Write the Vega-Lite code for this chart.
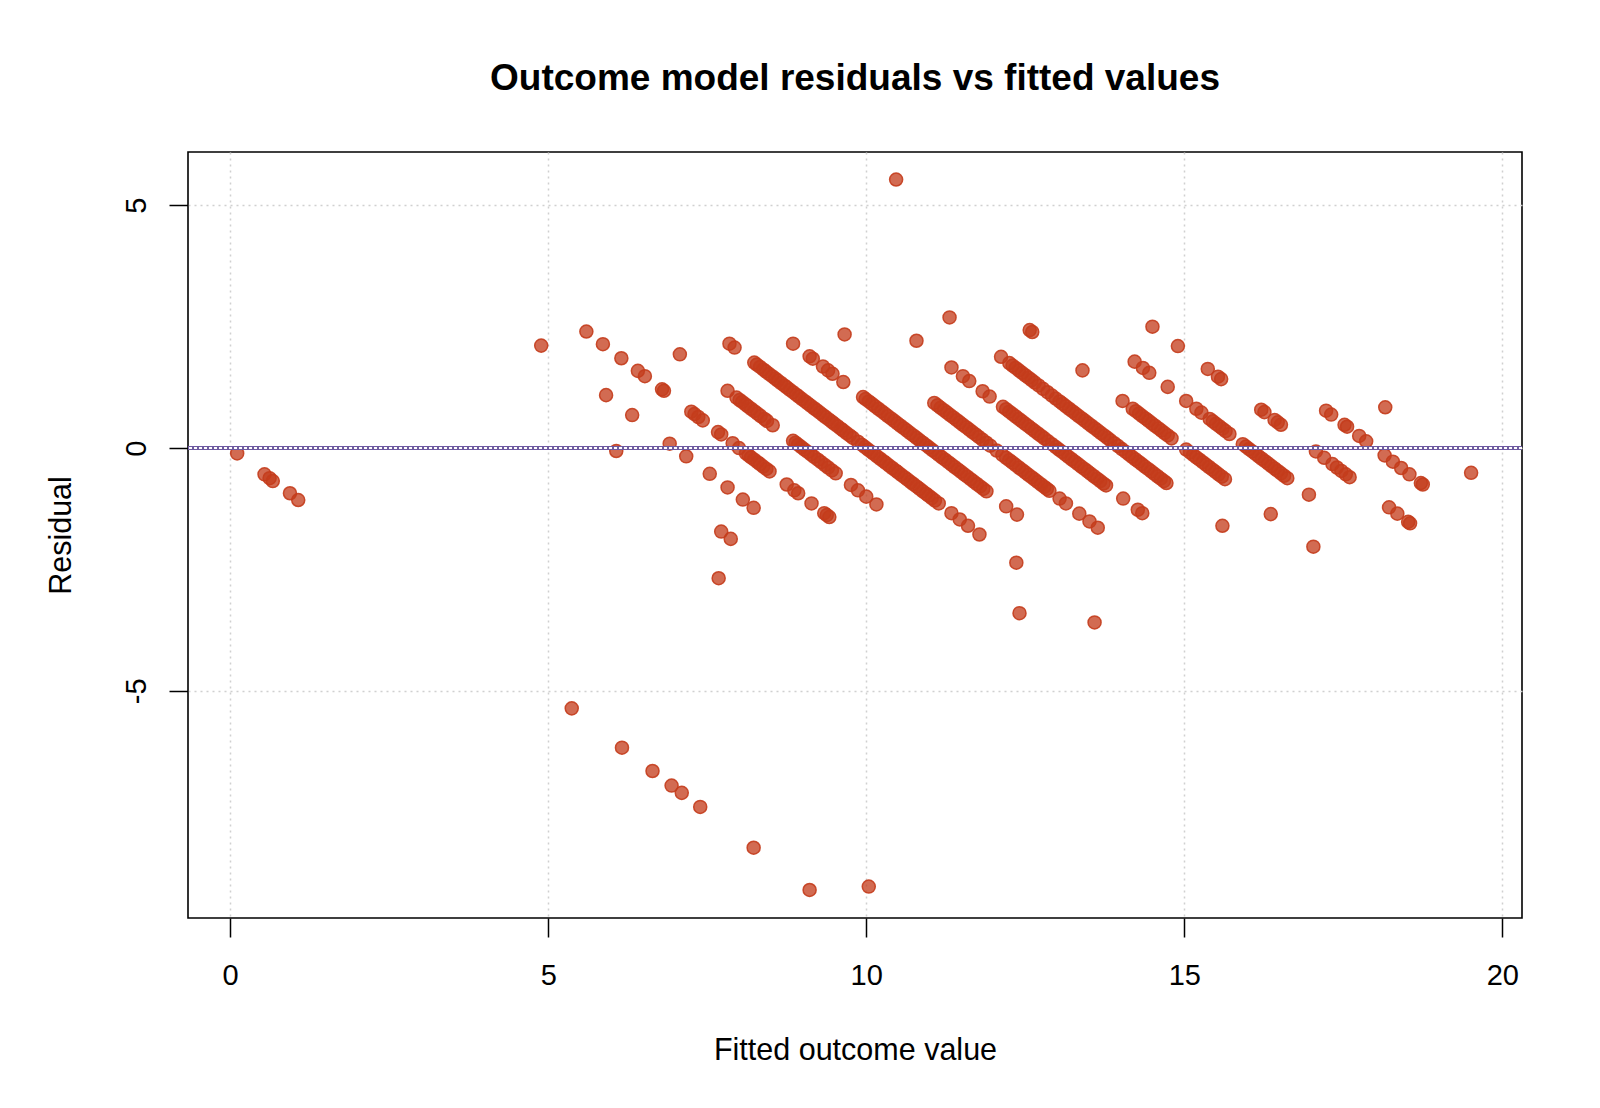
{
  "$schema": "https://vega.github.io/schema/vega-lite/v6.json",
  "width": 1334,
  "height": 766,
  "autosize": {"type": "none"},
  "padding": {"left": 188, "top": 152, "right": 78, "bottom": 190},
  "background": "white",
  "title": {
    "text": "Outcome model residuals vs fitted values",
    "font": "Liberation Sans",
    "fontSize": 37,
    "fontWeight": "bold",
    "color": "black",
    "anchor": "middle",
    "frame": "group",
    "baseline": "alphabetic",
    "offset": 25
  },
  "config": {
    "view": {"stroke": "black", "strokeWidth": 1.6},
    "axis": {
      "labelFont": "Liberation Sans",
      "titleFont": "Liberation Sans",
      "labelColor": "black",
      "titleColor": "black",
      "tickColor": "black",
      "tickWidth": 1.5,
      "tickSize": 19,
      "domain": false,
      "grid": true,
      "gridColor": "#d0d0d0",
      "gridDash": [2, 4],
      "gridWidth": 1.5,
      "labelFontSize": 29,
      "titleFontSize": 30.5,
      "titleFontWeight": "normal"
    }
  },
  "data": {
    "values": [
      {"fitted": 0.11, "residual": -0.11}, {"fitted": 0.54, "residual": -0.54}, {"fitted": 0.62, "residual": -0.62}, {"fitted": 0.67, "residual": -0.68}, {"fitted": 0.94, "residual": -0.93}, {"fitted": 1.07, "residual": -1.07},
      {"fitted": 5.37, "residual": -5.36}, {"fitted": 6.16, "residual": -6.17}, {"fitted": 6.64, "residual": -6.65}, {"fitted": 6.94, "residual": -6.95}, {"fitted": 7.10, "residual": -7.10}, {"fitted": 7.39, "residual": -7.39}, {"fitted": 8.23, "residual": -8.23}, {"fitted": 9.11, "residual": -9.10}, {"fitted": 10.04, "residual": -9.03},
      {"fitted": 7.68, "residual": -2.68}, {"fitted": 6.07, "residual": -0.06}, {"fitted": 7.72, "residual": -1.72}, {"fitted": 7.87, "residual": -1.87},
      {"fitted": 4.89, "residual": 2.11}, {"fitted": 5.91, "residual": 1.09}, {"fitted": 6.32, "residual": 0.68}, {"fitted": 6.91, "residual": 0.09}, {"fitted": 7.17, "residual": -0.17}, {"fitted": 7.54, "residual": -0.53}, {"fitted": 7.82, "residual": -0.81}, {"fitted": 8.06, "residual": -1.06}, {"fitted": 8.23, "residual": -1.23},
      {"fitted": 5.60, "residual": 2.40}, {"fitted": 5.86, "residual": 2.14}, {"fitted": 6.15, "residual": 1.85}, {"fitted": 6.41, "residual": 1.59}, {"fitted": 6.52, "residual": 1.48}, {"fitted": 6.79, "residual": 1.21}, {"fitted": 6.82, "residual": 1.18}, {"fitted": 7.25, "residual": 0.75}, {"fitted": 7.30, "residual": 0.70}, {"fitted": 7.36, "residual": 0.64}, {"fitted": 7.43, "residual": 0.57}, {"fitted": 7.67, "residual": 0.33}, {"fitted": 7.72, "residual": 0.28}, {"fitted": 7.90, "residual": 0.10}, {"fitted": 8.00, "residual": 0.00}, {"fitted": 8.11, "residual": -0.11}, {"fitted": 8.15, "residual": -0.15}, {"fitted": 8.19, "residual": -0.19}, {"fitted": 8.24, "residual": -0.24}, {"fitted": 8.29, "residual": -0.29}, {"fitted": 8.33, "residual": -0.33}, {"fitted": 8.38, "residual": -0.38}, {"fitted": 8.43, "residual": -0.43}, {"fitted": 8.48, "residual": -0.48}, {"fitted": 8.75, "residual": -0.75}, {"fitted": 8.87, "residual": -0.87}, {"fitted": 8.93, "residual": -0.93}, {"fitted": 9.14, "residual": -1.14}, {"fitted": 9.34, "residual": -1.34}, {"fitted": 9.38, "residual": -1.38}, {"fitted": 9.42, "residual": -1.42},
      {"fitted": 7.07, "residual": 1.93}, {"fitted": 7.82, "residual": 1.18}, {"fitted": 7.96, "residual": 1.04}, {"fitted": 8.01, "residual": 0.99}, {"fitted": 8.05, "residual": 0.95}, {"fitted": 8.10, "residual": 0.90}, {"fitted": 8.14, "residual": 0.86}, {"fitted": 8.19, "residual": 0.81}, {"fitted": 8.24, "residual": 0.76}, {"fitted": 8.29, "residual": 0.71}, {"fitted": 8.34, "residual": 0.66}, {"fitted": 8.40, "residual": 0.60}, {"fitted": 8.44, "residual": 0.56}, {"fitted": 8.53, "residual": 0.47}, {"fitted": 8.85, "residual": 0.15}, {"fitted": 8.89, "residual": 0.11}, {"fitted": 8.93, "residual": 0.07}, {"fitted": 8.98, "residual": 0.02}, {"fitted": 9.03, "residual": -0.03}, {"fitted": 9.08, "residual": -0.08}, {"fitted": 9.13, "residual": -0.13}, {"fitted": 9.18, "residual": -0.18}, {"fitted": 9.24, "residual": -0.24}, {"fitted": 9.29, "residual": -0.29}, {"fitted": 9.35, "residual": -0.35}, {"fitted": 9.40, "residual": -0.40}, {"fitted": 9.46, "residual": -0.46}, {"fitted": 9.52, "residual": -0.52}, {"fitted": 9.76, "residual": -0.76}, {"fitted": 9.87, "residual": -0.87}, {"fitted": 10.00, "residual": -1.00}, {"fitted": 10.16, "residual": -1.16},
      {"fitted": 7.85, "residual": 2.15}, {"fitted": 7.93, "residual": 2.07}, {"fitted": 8.24, "residual": 1.76}, {"fitted": 8.28, "residual": 1.72}, {"fitted": 8.33, "residual": 1.67}, {"fitted": 8.38, "residual": 1.62}, {"fitted": 8.42, "residual": 1.58}, {"fitted": 8.47, "residual": 1.53}, {"fitted": 8.52, "residual": 1.48}, {"fitted": 8.57, "residual": 1.43}, {"fitted": 8.61, "residual": 1.39}, {"fitted": 8.66, "residual": 1.34}, {"fitted": 8.71, "residual": 1.29}, {"fitted": 8.75, "residual": 1.25}, {"fitted": 8.80, "residual": 1.20}, {"fitted": 8.85, "residual": 1.15}, {"fitted": 8.90, "residual": 1.10}, {"fitted": 8.94, "residual": 1.06}, {"fitted": 8.99, "residual": 1.01}, {"fitted": 9.04, "residual": 0.96}, {"fitted": 9.08, "residual": 0.92}, {"fitted": 9.13, "residual": 0.87}, {"fitted": 9.18, "residual": 0.82}, {"fitted": 9.22, "residual": 0.78}, {"fitted": 9.27, "residual": 0.73}, {"fitted": 9.32, "residual": 0.68}, {"fitted": 9.36, "residual": 0.64}, {"fitted": 9.41, "residual": 0.59}, {"fitted": 9.46, "residual": 0.54}, {"fitted": 9.50, "residual": 0.50}, {"fitted": 9.55, "residual": 0.45}, {"fitted": 9.60, "residual": 0.40}, {"fitted": 9.64, "residual": 0.36}, {"fitted": 9.69, "residual": 0.31}, {"fitted": 9.74, "residual": 0.26}, {"fitted": 9.79, "residual": 0.21}, {"fitted": 9.87, "residual": 0.13}, {"fitted": 9.93, "residual": 0.07}, {"fitted": 9.98, "residual": 0.02}, {"fitted": 10.03, "residual": -0.03}, {"fitted": 10.08, "residual": -0.08}, {"fitted": 10.12, "residual": -0.12}, {"fitted": 10.17, "residual": -0.17}, {"fitted": 10.22, "residual": -0.22}, {"fitted": 10.27, "residual": -0.27}, {"fitted": 10.31, "residual": -0.31}, {"fitted": 10.36, "residual": -0.36}, {"fitted": 10.41, "residual": -0.41}, {"fitted": 10.46, "residual": -0.46}, {"fitted": 10.50, "residual": -0.50}, {"fitted": 10.55, "residual": -0.55}, {"fitted": 10.60, "residual": -0.60}, {"fitted": 10.65, "residual": -0.65}, {"fitted": 10.70, "residual": -0.70}, {"fitted": 10.74, "residual": -0.74}, {"fitted": 10.79, "residual": -0.79}, {"fitted": 10.84, "residual": -0.84}, {"fitted": 10.89, "residual": -0.89}, {"fitted": 10.94, "residual": -0.94}, {"fitted": 10.98, "residual": -0.98}, {"fitted": 11.03, "residual": -1.03}, {"fitted": 11.08, "residual": -1.08}, {"fitted": 11.14, "residual": -1.14}, {"fitted": 11.34, "residual": -1.34}, {"fitted": 11.47, "residual": -1.47}, {"fitted": 11.60, "residual": -1.60}, {"fitted": 11.78, "residual": -1.78}, {"fitted": 12.36, "residual": -2.36}, {"fitted": 13.59, "residual": -3.59}, {"fitted": 12.41, "residual": -3.40},
      {"fitted": 8.85, "residual": 2.15}, {"fitted": 9.11, "residual": 1.89}, {"fitted": 9.16, "residual": 1.84}, {"fitted": 9.32, "residual": 1.68}, {"fitted": 9.40, "residual": 1.60}, {"fitted": 9.47, "residual": 1.53}, {"fitted": 9.64, "residual": 1.36}, {"fitted": 9.95, "residual": 1.05}, {"fitted": 9.99, "residual": 1.01}, {"fitted": 10.04, "residual": 0.96}, {"fitted": 10.09, "residual": 0.91}, {"fitted": 10.14, "residual": 0.86}, {"fitted": 10.19, "residual": 0.81}, {"fitted": 10.24, "residual": 0.76}, {"fitted": 10.29, "residual": 0.71}, {"fitted": 10.34, "residual": 0.66}, {"fitted": 10.39, "residual": 0.61}, {"fitted": 10.44, "residual": 0.56}, {"fitted": 10.49, "residual": 0.51}, {"fitted": 10.54, "residual": 0.46}, {"fitted": 10.59, "residual": 0.41}, {"fitted": 10.64, "residual": 0.36}, {"fitted": 10.69, "residual": 0.31}, {"fitted": 10.74, "residual": 0.26}, {"fitted": 10.79, "residual": 0.21}, {"fitted": 10.84, "residual": 0.16}, {"fitted": 10.89, "residual": 0.11}, {"fitted": 10.94, "residual": 0.06}, {"fitted": 10.99, "residual": 0.01}, {"fitted": 11.04, "residual": -0.04}, {"fitted": 11.09, "residual": -0.09}, {"fitted": 11.14, "residual": -0.14}, {"fitted": 11.19, "residual": -0.19}, {"fitted": 11.24, "residual": -0.24}, {"fitted": 11.29, "residual": -0.29}, {"fitted": 11.34, "residual": -0.34}, {"fitted": 11.39, "residual": -0.39}, {"fitted": 11.44, "residual": -0.44}, {"fitted": 11.49, "residual": -0.49}, {"fitted": 11.54, "residual": -0.54}, {"fitted": 11.59, "residual": -0.59}, {"fitted": 11.64, "residual": -0.64}, {"fitted": 11.69, "residual": -0.69}, {"fitted": 11.74, "residual": -0.74}, {"fitted": 11.79, "residual": -0.79}, {"fitted": 11.84, "residual": -0.84}, {"fitted": 11.89, "residual": -0.89}, {"fitted": 12.20, "residual": -1.20}, {"fitted": 12.37, "residual": -1.37},
      {"fitted": 9.66, "residual": 2.34}, {"fitted": 11.07, "residual": 0.93}, {"fitted": 11.12, "residual": 0.88}, {"fitted": 11.17, "residual": 0.83}, {"fitted": 11.22, "residual": 0.78}, {"fitted": 11.27, "residual": 0.73}, {"fitted": 11.32, "residual": 0.68}, {"fitted": 11.37, "residual": 0.63}, {"fitted": 11.42, "residual": 0.58}, {"fitted": 11.47, "residual": 0.53}, {"fitted": 11.52, "residual": 0.48}, {"fitted": 11.57, "residual": 0.43}, {"fitted": 11.62, "residual": 0.38}, {"fitted": 11.67, "residual": 0.33}, {"fitted": 11.72, "residual": 0.28}, {"fitted": 11.77, "residual": 0.23}, {"fitted": 11.83, "residual": 0.17}, {"fitted": 11.89, "residual": 0.11}, {"fitted": 11.95, "residual": 0.05}, {"fitted": 12.05, "residual": -0.05}, {"fitted": 12.14, "residual": -0.14}, {"fitted": 12.20, "residual": -0.20}, {"fitted": 12.25, "residual": -0.25}, {"fitted": 12.30, "residual": -0.30}, {"fitted": 12.35, "residual": -0.35}, {"fitted": 12.40, "residual": -0.40}, {"fitted": 12.45, "residual": -0.45}, {"fitted": 12.50, "residual": -0.50}, {"fitted": 12.55, "residual": -0.55}, {"fitted": 12.60, "residual": -0.60}, {"fitted": 12.65, "residual": -0.65}, {"fitted": 12.70, "residual": -0.70}, {"fitted": 12.75, "residual": -0.75}, {"fitted": 12.80, "residual": -0.80}, {"fitted": 12.84, "residual": -0.84}, {"fitted": 12.88, "residual": -0.88}, {"fitted": 13.04, "residual": -1.04}, {"fitted": 13.14, "residual": -1.14}, {"fitted": 13.35, "residual": -1.35}, {"fitted": 13.51, "residual": -1.51}, {"fitted": 13.64, "residual": -1.64},
      {"fitted": 10.79, "residual": 2.21}, {"fitted": 11.34, "residual": 1.66}, {"fitted": 11.52, "residual": 1.48}, {"fitted": 11.62, "residual": 1.38}, {"fitted": 11.83, "residual": 1.17}, {"fitted": 11.94, "residual": 1.06}, {"fitted": 12.15, "residual": 0.85}, {"fitted": 12.20, "residual": 0.80}, {"fitted": 12.25, "residual": 0.75}, {"fitted": 12.30, "residual": 0.70}, {"fitted": 12.35, "residual": 0.65}, {"fitted": 12.40, "residual": 0.60}, {"fitted": 12.45, "residual": 0.55}, {"fitted": 12.50, "residual": 0.50}, {"fitted": 12.55, "residual": 0.45}, {"fitted": 12.60, "residual": 0.40}, {"fitted": 12.65, "residual": 0.35}, {"fitted": 12.70, "residual": 0.30}, {"fitted": 12.75, "residual": 0.25}, {"fitted": 12.80, "residual": 0.20}, {"fitted": 12.86, "residual": 0.14}, {"fitted": 12.92, "residual": 0.08}, {"fitted": 12.98, "residual": 0.02}, {"fitted": 13.03, "residual": -0.03}, {"fitted": 13.08, "residual": -0.08}, {"fitted": 13.13, "residual": -0.13}, {"fitted": 13.18, "residual": -0.18}, {"fitted": 13.23, "residual": -0.23}, {"fitted": 13.28, "residual": -0.28}, {"fitted": 13.33, "residual": -0.33}, {"fitted": 13.38, "residual": -0.38}, {"fitted": 13.43, "residual": -0.43}, {"fitted": 13.48, "residual": -0.48}, {"fitted": 13.53, "residual": -0.53}, {"fitted": 13.58, "residual": -0.58}, {"fitted": 13.63, "residual": -0.63}, {"fitted": 13.68, "residual": -0.68}, {"fitted": 13.73, "residual": -0.73}, {"fitted": 13.77, "residual": -0.77}, {"fitted": 14.04, "residual": -1.04}, {"fitted": 14.27, "residual": -1.27}, {"fitted": 14.34, "residual": -1.34},
      {"fitted": 11.31, "residual": 2.69}, {"fitted": 12.12, "residual": 1.88}, {"fitted": 12.25, "residual": 1.75}, {"fitted": 12.30, "residual": 1.70}, {"fitted": 12.35, "residual": 1.65}, {"fitted": 12.40, "residual": 1.60}, {"fitted": 12.45, "residual": 1.55}, {"fitted": 12.50, "residual": 1.50}, {"fitted": 12.55, "residual": 1.45}, {"fitted": 12.60, "residual": 1.40}, {"fitted": 12.65, "residual": 1.35}, {"fitted": 12.71, "residual": 1.29}, {"fitted": 12.78, "residual": 1.22}, {"fitted": 12.85, "residual": 1.15}, {"fitted": 12.92, "residual": 1.08}, {"fitted": 12.98, "residual": 1.02}, {"fitted": 13.04, "residual": 0.96}, {"fitted": 13.09, "residual": 0.91}, {"fitted": 13.14, "residual": 0.86}, {"fitted": 13.19, "residual": 0.81}, {"fitted": 13.24, "residual": 0.76}, {"fitted": 13.29, "residual": 0.71}, {"fitted": 13.34, "residual": 0.66}, {"fitted": 13.39, "residual": 0.61}, {"fitted": 13.44, "residual": 0.56}, {"fitted": 13.49, "residual": 0.51}, {"fitted": 13.54, "residual": 0.46}, {"fitted": 13.59, "residual": 0.41}, {"fitted": 13.64, "residual": 0.36}, {"fitted": 13.69, "residual": 0.31}, {"fitted": 13.74, "residual": 0.26}, {"fitted": 13.79, "residual": 0.21}, {"fitted": 13.84, "residual": 0.16}, {"fitted": 13.90, "residual": 0.10}, {"fitted": 13.96, "residual": 0.04}, {"fitted": 14.02, "residual": -0.02}, {"fitted": 14.08, "residual": -0.08}, {"fitted": 14.13, "residual": -0.13}, {"fitted": 14.18, "residual": -0.18}, {"fitted": 14.23, "residual": -0.23}, {"fitted": 14.28, "residual": -0.28}, {"fitted": 14.33, "residual": -0.33}, {"fitted": 14.38, "residual": -0.38}, {"fitted": 14.43, "residual": -0.43}, {"fitted": 14.48, "residual": -0.48}, {"fitted": 14.53, "residual": -0.53}, {"fitted": 14.58, "residual": -0.58}, {"fitted": 14.63, "residual": -0.63}, {"fitted": 14.68, "residual": -0.68}, {"fitted": 14.72, "residual": -0.72}, {"fitted": 15.60, "residual": -1.60},
      {"fitted": 12.57, "residual": 2.43}, {"fitted": 12.61, "residual": 2.39}, {"fitted": 13.40, "residual": 1.60}, {"fitted": 14.03, "residual": 0.97}, {"fitted": 14.19, "residual": 0.81}, {"fitted": 14.24, "residual": 0.76}, {"fitted": 14.29, "residual": 0.71}, {"fitted": 14.34, "residual": 0.66}, {"fitted": 14.39, "residual": 0.61}, {"fitted": 14.44, "residual": 0.56}, {"fitted": 14.49, "residual": 0.51}, {"fitted": 14.54, "residual": 0.46}, {"fitted": 14.59, "residual": 0.41}, {"fitted": 14.64, "residual": 0.36}, {"fitted": 14.69, "residual": 0.31}, {"fitted": 14.74, "residual": 0.26}, {"fitted": 14.80, "residual": 0.20}, {"fitted": 15.03, "residual": -0.03}, {"fitted": 15.09, "residual": -0.09}, {"fitted": 15.14, "residual": -0.14}, {"fitted": 15.19, "residual": -0.19}, {"fitted": 15.24, "residual": -0.24}, {"fitted": 15.29, "residual": -0.29}, {"fitted": 15.34, "residual": -0.34}, {"fitted": 15.39, "residual": -0.39}, {"fitted": 15.44, "residual": -0.44}, {"fitted": 15.49, "residual": -0.49}, {"fitted": 15.54, "residual": -0.54}, {"fitted": 15.59, "residual": -0.59}, {"fitted": 15.64, "residual": -0.64}, {"fitted": 16.36, "residual": -1.36}, {"fitted": 17.03, "residual": -2.03},
      {"fitted": 10.47, "residual": 5.53}, {"fitted": 14.22, "residual": 1.78}, {"fitted": 14.35, "residual": 1.65}, {"fitted": 14.45, "residual": 1.55}, {"fitted": 14.74, "residual": 1.26}, {"fitted": 15.03, "residual": 0.97}, {"fitted": 15.19, "residual": 0.81}, {"fitted": 15.27, "residual": 0.73}, {"fitted": 15.40, "residual": 0.60}, {"fitted": 15.45, "residual": 0.55}, {"fitted": 15.50, "residual": 0.50}, {"fitted": 15.55, "residual": 0.45}, {"fitted": 15.60, "residual": 0.40}, {"fitted": 15.65, "residual": 0.35}, {"fitted": 15.71, "residual": 0.29}, {"fitted": 15.92, "residual": 0.08}, {"fitted": 15.97, "residual": 0.03}, {"fitted": 16.02, "residual": -0.02}, {"fitted": 16.07, "residual": -0.07}, {"fitted": 16.12, "residual": -0.12}, {"fitted": 16.17, "residual": -0.17}, {"fitted": 16.22, "residual": -0.22}, {"fitted": 16.27, "residual": -0.27}, {"fitted": 16.32, "residual": -0.32}, {"fitted": 16.37, "residual": -0.37}, {"fitted": 16.42, "residual": -0.42}, {"fitted": 16.47, "residual": -0.47}, {"fitted": 16.52, "residual": -0.52}, {"fitted": 16.57, "residual": -0.57}, {"fitted": 16.62, "residual": -0.62}, {"fitted": 16.96, "residual": -0.96},
      {"fitted": 14.50, "residual": 2.50}, {"fitted": 14.90, "residual": 2.10}, {"fitted": 15.37, "residual": 1.63}, {"fitted": 15.53, "residual": 1.47}, {"fitted": 15.58, "residual": 1.42}, {"fitted": 16.21, "residual": 0.79}, {"fitted": 16.26, "residual": 0.74}, {"fitted": 16.42, "residual": 0.58}, {"fitted": 16.47, "residual": 0.53}, {"fitted": 16.52, "residual": 0.48}, {"fitted": 17.07, "residual": -0.07}, {"fitted": 17.20, "residual": -0.20}, {"fitted": 17.33, "residual": -0.33}, {"fitted": 17.40, "residual": -0.40}, {"fitted": 17.47, "residual": -0.47}, {"fitted": 17.54, "residual": -0.54}, {"fitted": 17.60, "residual": -0.60}, {"fitted": 18.22, "residual": -1.22}, {"fitted": 18.35, "residual": -1.35}, {"fitted": 18.52, "residual": -1.52}, {"fitted": 18.55, "residual": -1.55},
      {"fitted": 17.23, "residual": 0.77}, {"fitted": 17.31, "residual": 0.69}, {"fitted": 17.52, "residual": 0.48}, {"fitted": 17.56, "residual": 0.44}, {"fitted": 17.75, "residual": 0.25}, {"fitted": 17.86, "residual": 0.14}, {"fitted": 18.15, "residual": -0.15}, {"fitted": 18.28, "residual": -0.28}, {"fitted": 18.41, "residual": -0.41}, {"fitted": 18.54, "residual": -0.54}, {"fitted": 18.72, "residual": -0.72}, {"fitted": 18.75, "residual": -0.75},
      {"fitted": 18.16, "residual": 0.84}, {"fitted": 19.51, "residual": -0.51}
    ]
  },
  "layer": [
    {
      "mark": {"type": "point", "shape": "circle", "filled": true, "size": 170, "color": "#c43c1c", "fillOpacity": 0.76, "stroke": "#c43c1c", "strokeOpacity": 0.9, "strokeWidth": 1.5},
      "encoding": {
        "x": {
          "field": "fitted", "type": "quantitative",
          "scale": {"domain": [-0.663, 20.31], "nice": false, "zero": false},
          "axis": {
            "values": [0, 5, 10, 15, 20],
            "title": "Fitted outcome value",
            "labelBaseline": "alphabetic",
            "labelPadding": 47,
            "labelExpr": "toString(datum.value)",
            "titleBaseline": "alphabetic",
            "titleX": 667,
            "titleY": 141
          }
        },
        "y": {
          "field": "residual", "type": "quantitative",
          "scale": {"domain": [-9.677, 6.097], "nice": false, "zero": false},
          "axis": {
            "values": [-5, 0, 5],
            "title": "Residual",
            "labelAngle": 270,
            "labelAlign": "center",
            "labelBaseline": "alphabetic",
            "labelPadding": 24,
            "labelExpr": "toString(datum.value)",
            "titleAngle": 270,
            "titleBaseline": "alphabetic",
            "titleX": -118,
            "titleY": 383
          }
        }
      }
    },
    {
      "mark": {"type": "rule", "color": "#6e5aa0", "strokeWidth": 3.6},
      "encoding": {"y": {"datum": 0}}
    },
    {
      "mark": {"type": "rule", "color": "white", "strokeWidth": 1, "strokeDash": [2.5, 2.5]},
      "encoding": {"y": {"datum": 0}}
    }
  ]
}
